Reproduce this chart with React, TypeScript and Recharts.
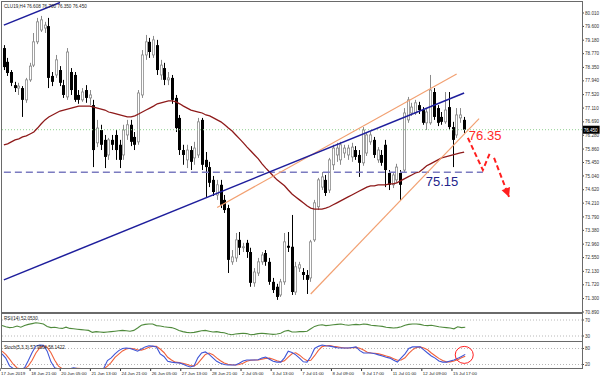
import React from "react";
import { ComposedChart, Bar, Line, XAxis, YAxis, ReferenceLine, ReferenceDot } from "recharts";

// ---------- data ----------
const opens = [78.94,78.52,78.21,77.81,77.72,77.72,77.36,77.97,78.42,79.13,79.49,79.55,79.61,78.09,78.12,78.27,77.81,77.45,78.21,78.12,77.51,77.36,77.66,77.42,77.20,76.05,76.44,76.14,75.68,76.14,76.29,75.99,75.68,76.29,76.60,76.23,76.08,77.51,78.73,79.13,78.73,79.03,78.12,78.33,77.97,78.03,77.42,76.81,75.83,75.53,75.83,75.59,75.68,76.75,75.53,75.31,74.92,74.46,74.77,74.31,74.06,72.42,72.54,73.09,72.85,73.00,72.72,71.78,72.08,72.42,72.69,72.42,71.81,71.66,71.41,71.81,72.91,72.88,71.50,72.23,72.11,72.02,71.93,73.09,74.10,74.70,74.92,74.61,75.38,75.68,75.53,75.74,75.68,75.62,75.83,75.68,75.44,75.74,76.08,76.14,75.53,75.68,75.99,75.13,74.77,74.92,75.13,75.22,76.75,76.96,76.96,77.20,77.05,76.66,76.66,77.60,77.11,76.84,76.69,77.14,76.53,76.29,76.81,76.75];
const highs = [79.03,78.64,78.27,77.91,77.88,77.78,78.03,78.49,79.40,79.86,79.92,79.74,79.86,78.21,78.73,78.39,77.97,78.94,78.33,78.21,77.66,77.72,77.81,77.66,77.36,76.75,76.60,76.29,76.20,76.29,76.44,76.14,76.60,76.75,76.75,76.38,77.66,78.88,79.34,79.25,79.31,79.19,78.58,78.49,78.21,78.12,77.51,76.90,75.99,75.99,75.95,76.08,76.81,76.81,75.77,75.47,75.04,74.92,74.92,74.46,74.16,72.78,73.30,73.33,73.00,73.09,72.85,72.23,72.54,72.72,72.78,72.54,71.93,71.75,71.90,73.30,73.33,73.85,72.42,72.42,72.23,72.17,73.09,74.31,74.98,75.16,75.07,75.59,75.99,76.05,76.08,75.99,75.99,76.05,75.95,75.83,76.53,76.38,76.38,76.23,75.92,75.83,76.14,75.22,75.16,75.41,75.22,77.11,77.45,77.27,77.36,77.30,77.14,77.11,78.12,77.72,77.20,76.99,77.60,77.60,76.69,77.11,77.11,76.84];
const lows = [78.27,78.09,77.78,77.60,77.51,76.84,77.27,77.91,78.36,79.06,79.43,79.40,77.72,77.78,78.03,77.78,77.42,77.36,77.51,77.30,77.24,77.30,77.27,77.20,75.31,75.92,75.83,75.28,75.53,75.83,75.53,75.28,75.53,76.14,75.95,75.83,75.99,77.42,78.58,78.64,78.64,78.12,77.97,77.81,77.81,77.24,76.38,75.68,75.38,75.28,75.22,75.38,75.59,75.22,74.40,74.70,74.43,74.31,74.06,73.91,72.08,72.33,72.42,72.63,72.72,72.54,71.66,71.66,71.99,72.33,72.30,71.72,71.47,71.26,71.35,71.72,72.72,71.41,71.41,72.11,71.87,71.44,71.81,73.03,74.00,74.61,74.43,74.52,75.22,75.47,75.38,75.59,75.53,75.47,75.53,75.01,75.35,75.65,75.99,75.59,75.44,75.35,74.70,74.61,74.67,74.83,74.31,75.13,76.66,76.87,76.90,76.93,76.60,76.44,76.60,76.75,76.56,76.60,76.63,76.44,75.31,76.20,76.66,76.35];
const closes = [78.36,78.18,77.88,77.72,77.78,77.36,77.97,78.39,79.13,79.74,79.80,79.64,78.03,77.91,78.58,77.88,77.51,78.82,77.66,77.36,77.36,77.60,77.42,77.51,75.83,76.50,75.99,75.62,76.14,75.99,75.83,75.53,76.44,76.60,76.08,75.99,77.57,78.73,79.13,78.82,79.19,78.27,78.42,77.97,78.03,77.36,76.50,75.83,75.68,75.83,75.47,75.89,76.69,75.38,75.31,74.83,74.55,74.77,74.16,74.00,72.48,72.57,73.09,72.85,72.88,72.72,71.78,72.11,72.42,72.63,72.42,71.81,71.56,71.35,71.81,73.03,72.85,71.50,72.27,72.33,72.02,71.87,73.03,74.22,74.92,75.01,74.52,75.53,75.89,75.89,75.99,75.89,75.89,75.92,75.62,75.44,76.44,76.29,76.29,75.68,75.83,75.44,75.22,74.77,75.07,75.31,74.77,76.96,77.36,77.14,77.27,77.05,76.66,76.99,77.66,76.84,76.66,76.69,77.05,76.53,76.14,76.90,76.90,76.45];
const maValues = [75.99,76.02,76.08,76.14,76.17,76.23,76.26,76.32,76.38,76.50,76.63,76.75,76.84,76.90,76.96,77.02,77.05,77.08,77.11,77.14,77.17,77.17,77.17,77.17,77.14,77.11,77.08,77.05,76.99,76.96,76.93,76.90,76.87,76.84,76.84,76.87,76.93,76.99,77.05,77.11,77.17,77.24,77.27,77.30,77.33,77.33,77.30,77.24,77.17,77.11,77.05,77.02,76.99,76.96,76.90,76.87,76.81,76.75,76.69,76.60,76.50,76.41,76.29,76.17,76.05,75.92,75.80,75.68,75.56,75.41,75.28,75.16,75.04,74.92,74.83,74.74,74.61,74.49,74.40,74.31,74.22,74.13,74.06,74.03,74.03,74.03,74.06,74.10,74.16,74.22,74.28,74.34,74.40,74.46,74.52,74.58,74.64,74.70,74.74,74.74,74.77,74.77,74.77,74.80,74.80,74.83,74.89,74.95,75.01,75.07,75.13,75.16,75.25,75.35,75.41,75.47,75.53,75.59,75.62,75.65,75.68,75.71,75.74,75.77];
const rsiValues = [56,53,51,52,55,52,56,59,61,63,62,60,54,51,52,50,49,52,49,48,47,46,45,44,39,41,40,39,40,41,42,43,44,43,42,44,50,57,59,60,60,56,55,53,52,51,48,44,41,39,38,39,41,43,44,42,40,41,39,38,35,33,35,36,37,36,33,34,36,37,36,35,34,35,37,42,44,40,40,41,41,42,48,54,57,58,56,57,58,59,60,58,57,58,59,58,60,59,57,56,55,54,52,51,50,51,53,57,59,60,60,59,57,56,57,55,53,52,51,50,48,53,51,52];
const stochMain = [60,44,15,5,2,1,8,35,65,89,93,92,70,30,8,3,1,2,4,8,5,2,1,1,0,1,2,5,35,45,60,72,80,82,80,75,70,78,86,90,89,86,60,50,32,29,27,26,22,15,11,15,45,63,67,58,45,32,25,20,18,18,18,25,33,37,37,37,38,44,48,40,32,29,29,45,70,65,56,44,30,29,50,80,88,93,90,89,86,83,82,82,82,84,86,72,63,63,63,60,56,52,47,44,36,29,45,60,80,86,86,86,75,63,52,44,33,29,29,33,37,43,50,58];
const stochSignal = [70,58,40,21,7,3,4,15,36,63,82,91,85,64,36,14,4,2,2,5,6,5,3,1,1,1,1,3,14,28,47,59,71,78,81,79,75,74,78,85,88,88,78,65,47,37,29,27,25,21,16,14,24,41,58,63,57,45,34,26,21,19,18,20,25,32,36,37,37,40,43,44,40,34,30,34,48,60,64,55,43,34,36,53,73,87,90,91,88,86,84,82,82,83,84,81,74,66,63,62,60,56,52,48,42,36,37,45,62,75,84,86,82,75,63,53,43,35,30,30,33,38,45,51];
const timeLabels = ["17 Jun 2019","18 Jun 21:00","20 Jun 05:00","21 Jun 13:00","24 Jun 21:00","26 Jun 05:00","27 Jun 13:00","28 Jun 21:00","2 Jul 05:00","3 Jul 13:00","7 Jul 01:00","8 Jul 09:00","9 Jul 17:00","11 Jul 01:00","12 Jul 09:00","15 Jul 17:00"];
const priceTicks = [80.01,79.6,79.18,78.77,78.35,77.94,77.52,77.11,76.69,76.28,75.86,75.45,75.04,74.62,74.21,73.79,73.38,72.96,72.55,72.13,71.72,71.3,70.89];
const currentPrice = 76.45;
const TOTAL_SLOTS = 155;

// annotation anchors: [bar index, price]
const blueTrend = [[0, 71.87], [123, 77.57]];
const blueUpper = [[0, 79.64], [15, 80.33]];
const orangeUpper = [[57, 74.08], [121, 78.15]];
const orangeLower = [[82, 71.44], [127, 76.79]];
const supportLevel = [[0, 75.15], [128, 75.15]];
const arrowPathA = [[124, 76.2], [128, 75.22], [130, 75.77]];
const arrowPathB = [[131, 75.59], [135, 74.4]];
const resistanceText = { i: 124, p: 76.14, text: "76.35" };
const supportText = { i: 113, p: 74.74, text: "75.15" };
const stochCircle = { i: 123, v: 56 };

// ---------- rows ----------
const rows: any[] = Array.from({ length: TOTAL_SLOTS }, (_, i) => {
  const r: any = { i };
  if (i < opens.length) {
    r.o = opens[i]; r.h = highs[i]; r.l = lows[i]; r.c = closes[i];
    r.range = [lows[i], highs[i]];
    r.ma = maValues[i]; r.rsi = rsiValues[i]; r.k = stochMain[i]; r.d = stochSignal[i];
  }
  return r;
});
const addPts = (key: string, pts: number[][]) => pts.forEach(([i, p]) => { rows[i][key] = p; });
addPts("blueTrend", blueTrend);
addPts("blueUpper", blueUpper);
addPts("orangeUpper", orangeUpper);
addPts("orangeLower", orangeLower);
addPts("support", supportLevel);
addPts("arrowA", arrowPathA);
addPts("arrowB", arrowPathB);
const arrowEnd = arrowPathB[arrowPathB.length - 1][0];

const FONT = "'Liberation Sans', Arial, sans-serif";
const W = 600;
const MARGIN = { top: 2, right: 0, bottom: 1, left: 2 };

const Candle = (props: any) => {
  const { x, y, width, height, payload } = props;
  if (!payload || payload.o == null || x == null) return <g />;
  const { o, h, l, c } = payload;
  const top = Math.min(y, y + height);
  const hh = Math.abs(height);
  const k = h > l ? hh / (h - l) : 0;
  const yOf = (v: number) => top + (h - v) * k;
  const cx = Math.round(x + width / 2) + 0.5;
  const bull = c >= o;
  const bTop = yOf(Math.max(o, c));
  const bBot = yOf(Math.min(o, c));
  const bh = Math.max(1, bBot - bTop);
  const col = bull ? "#8a8a8a" : "#000000";
  return (
    <g>
      <line x1={cx} x2={cx} y1={top} y2={top + hh} stroke={col} strokeWidth={1} />
      {bull ? (
        <rect x={cx - 1.1} y={bTop} width={2.2} height={bh} fill="#ffffff" stroke={col} strokeWidth={0.8} />
      ) : (
        <rect x={cx - 1.5} y={bTop} width={3} height={bh} fill="#000000" />
      )}
    </g>
  );
};

const ArrowDot = (props: any) => {
  const { cx, cy, index } = props;
  if (index !== arrowEnd || cx == null) return <g key={`ad${index}`} />;
  const dx = 0.359, dy = 0.933, nx = -0.933, ny = 0.359;
  const bx = cx - 9 * dx, by = cy - 9 * dy;
  const pts = `${cx},${cy} ${bx + 4.5 * nx},${by + 4.5 * ny} ${bx - 4.5 * nx},${by - 4.5 * ny}`;
  return <polygon key={`ad${index}`} points={pts} fill="#ff1e1e" />;
};

const TimeTick = (props: any) => {
  const { x, y, payload } = props;
  const i = Number(payload?.value);
  if (i % 8 !== 0 || i / 8 >= timeLabels.length) return <g />;
  return (
    <g>
      <line x1={x - 2} x2={x - 2} y1={y} y2={y + 3} stroke="#333" strokeWidth={1} />
      <text x={x - 1} y={y + 6.5} fontSize={4.4} fill="#222" fontFamily={FONT}>{timeLabels[i / 8]}</text>
    </g>
  );
};

const boxStyle = (top: number, height: number): React.CSSProperties => ({
  position: "absolute", left: 1, top, width: 582, height, border: "1px solid #6a6a6a",
  boxSizing: "border-box", pointerEvents: "none",
});

export default function App() {
  return (
    <div style={{ position: "absolute", left: 0, top: 0, width: W, height: 376, background: "#fff", overflow: "hidden", fontFamily: FONT }}>
      {/* main price panel */}
      <div style={{ position: "absolute", left: 0, top: 0 }}>
        <ComposedChart width={W} height={314} data={rows} margin={MARGIN}>
          <XAxis dataKey="i" type="category" hide />
          <YAxis orientation="right" domain={[70.86, 80.345]} allowDataOverflow ticks={priceTicks} interval={0}
            tickFormatter={(v: number) => v.toFixed(3)} width={18} axisLine={false}
            tick={{ fontSize: 4.6, fill: "#333", fontFamily: FONT }} tickSize={2} tickMargin={1}
            tickLine={{ stroke: "#444" }} />
          <ReferenceLine y={currentPrice} stroke="#8fd08f" strokeDasharray="1 2" />
          <Line dataKey="support" stroke="#7b7bc0" strokeWidth={1.5} strokeDasharray="7 4" dot={false} connectNulls isAnimationActive={false} />
          <Bar dataKey="range" barSize={3} isAnimationActive={false} shape={(p: any) => <Candle {...p} />} />
          <Line dataKey="ma" stroke="#8e1a1a" strokeWidth={1.3} dot={false} isAnimationActive={false} />
          <Line dataKey="orangeUpper" stroke="#f2a071" strokeWidth={1.2} dot={false} connectNulls isAnimationActive={false} />
          <Line dataKey="orangeLower" stroke="#f2a071" strokeWidth={1.2} dot={false} connectNulls isAnimationActive={false} />
          <Line dataKey="blueTrend" stroke="#1e1e9c" strokeWidth={1.5} dot={false} connectNulls isAnimationActive={false} />
          <Line dataKey="blueUpper" stroke="#1e1e9c" strokeWidth={1.5} dot={false} connectNulls isAnimationActive={false} />
          <Line dataKey="arrowA" stroke="#ff1e1e" strokeWidth={2} strokeDasharray="5 3" dot={false} connectNulls isAnimationActive={false} />
          <Line dataKey="arrowB" stroke="#ff1e1e" strokeWidth={2} strokeDasharray="5 3" dot={(p: any) => <ArrowDot {...p} />} connectNulls isAnimationActive={false} />
          <ReferenceDot x={resistanceText.i} y={resistanceText.p} r={0} ifOverflow="visible"
            shape={(p: any) => <text x={p.cx + 1} y={p.cy} fontSize={13} fill="#ff2a2a" fontFamily={FONT}>{resistanceText.text}</text>} />
          <ReferenceDot x={supportText.i} y={supportText.p} r={0} ifOverflow="visible"
            shape={(p: any) => <text x={p.cx - 1} y={p.cy} fontSize={13} fill="#23238a" fontFamily={FONT}>{supportText.text}</text>} />
          <ReferenceDot x={TOTAL_SLOTS - 1} y={currentPrice} r={0} ifOverflow="visible"
            shape={(p: any) => (
              <g>
                <rect x={p.cx + 2.5} y={p.cy - 4} width={17} height={8} fill="#000" />
                <text x={p.cx + 3.5} y={p.cy + 2} fontSize={4.6} fill="#fff" fontFamily={FONT}>{currentPrice.toFixed(3)}</text>
              </g>
            )} />
        </ComposedChart>
      </div>

      {/* RSI panel */}
      <div style={{ position: "absolute", left: 0, top: 314 }}>
        <ComposedChart width={W} height={27} data={rows} margin={{ top: 0, right: 0, bottom: 0, left: 2 }}>
          <XAxis dataKey="i" type="category" hide />
          <YAxis orientation="right" domain={[17.5, 85]} allowDataOverflow ticks={[70, 30]} interval={0} width={18}
            axisLine={false} tick={{ fontSize: 4.6, fill: "#333", fontFamily: FONT }} tickSize={2} tickMargin={1} tickLine={{ stroke: "#444" }} />
          <ReferenceLine y={70} stroke="#b8b8b8" strokeDasharray="1 2" />
          <ReferenceLine y={30} stroke="#b8b8b8" strokeDasharray="1 2" />
          <Line dataKey="rsi" stroke="#4f8a3c" strokeWidth={1.1} dot={false} isAnimationActive={false} />
        </ComposedChart>
      </div>

      {/* Stochastic panel */}
      <div style={{ position: "absolute", left: 0, top: 342 }}>
        <ComposedChart width={W} height={34} data={rows} margin={{ top: 1, right: 0, bottom: 0, left: 2 }}>
          <XAxis dataKey="i" type="category" interval={0} height={8} axisLine={false} tickLine={false}
            tickSize={0} tickMargin={0} tick={(p: any) => <TimeTick {...p} />} />
          <YAxis orientation="right" domain={[6.9, 100.6]} allowDataOverflow ticks={[80, 20]} interval={0} width={18}
            axisLine={false} tick={{ fontSize: 4.6, fill: "#333", fontFamily: FONT }} tickSize={2} tickMargin={1} tickLine={{ stroke: "#444" }} />
          <ReferenceLine y={80} stroke="#b8b8b8" strokeDasharray="1 2" />
          <ReferenceLine y={20} stroke="#b8b8b8" strokeDasharray="1 2" />
          <Line dataKey="d" stroke="#f0603a" strokeWidth={1.1} dot={false} isAnimationActive={false} />
          <Line dataKey="k" stroke="#3f55d6" strokeWidth={1.1} dot={false} isAnimationActive={false} />
          <ReferenceDot x={stochCircle.i} y={stochCircle.v} r={0} ifOverflow="visible"
            shape={(p: any) => <ellipse cx={p.cx - 1} cy={p.cy} rx={9} ry={8.5} fill="none" stroke="#ff2020" strokeWidth={1} />} />
        </ComposedChart>
      </div>

      {/* panel frames */}
      <div style={boxStyle(1, 312)} />
      <div style={boxStyle(313, 29)} />
      <div style={boxStyle(341, 28)} />

      {/* panel captions */}
      <svg width={W} height={376} style={{ position: "absolute", left: 0, top: 0, pointerEvents: "none" }}>
        <text x={4} y={7.5} fontSize={4.6} fill="#222" fontFamily={FONT}>CLU19,H4  76.608 76.700 76.350 76.450</text>
        <text x={4} y={320} fontSize={4.6} fill="#222" fontFamily={FONT}>RSI(14) 52.0530</text>
        <text x={4} y={348.5} fontSize={4.6} fill="#222" fontFamily={FONT}>Stoch(5,3,3) 57.9564 58.1422</text>
      </svg>
    </div>
  );
}
